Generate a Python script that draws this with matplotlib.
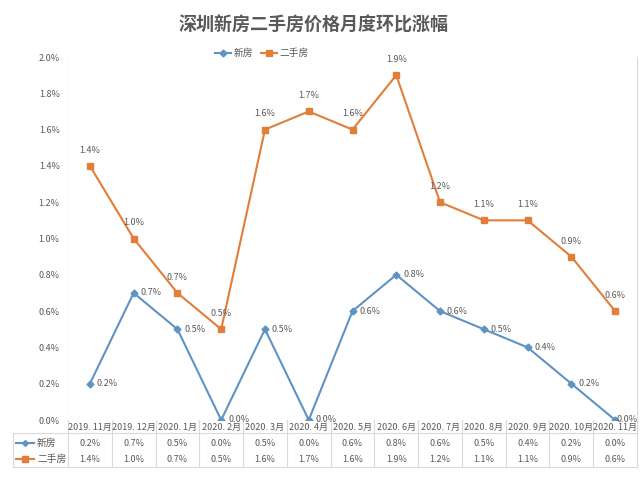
import matplotlib.pyplot as plt
from matplotlib.transforms import blended_transform_factory
from matplotlib.lines import Line2D

plt.rcParams['font.family'] = ['Noto Sans CJK SC', 'DejaVu Sans']

months = ["2019. 11月", "2019. 12月", "2020. 1月", "2020. 2月", "2020. 3月", "2020. 4月",
          "2020. 5月", "2020. 6月", "2020. 7月", "2020. 8月", "2020. 9月", "2020. 10月", "2020. 11月"]
new_home = [0.2, 0.7, 0.5, 0.0, 0.5, 0.0, 0.6, 0.8, 0.6, 0.5, 0.4, 0.2, 0.0]
second_hand = [1.4, 1.0, 0.7, 0.5, 1.6, 1.7, 1.6, 1.9, 1.2, 1.1, 1.1, 0.9, 0.6]
y_ticks = [0.0, 0.2, 0.4, 0.6, 0.8, 1.0, 1.2, 1.4, 1.6, 1.8, 2.0]

blue = '#5E93C4'
orange = '#E07E3A'
txt = '#595959'
grid = '#D9D9D9'

W, H = 640, 491
fig = plt.figure(figsize=(6.4, 4.91), dpi=100)
ax = fig.add_axes([68 / W, 1 - 420 / H, (637 - 68) / W, (420 - 57) / H])

x = list(range(len(months)))
ax.plot(x, new_home, color=blue, lw=1.5, marker='D', ms=3.5, label='新房', zorder=3)
ax.plot(x, second_hand, color=orange, lw=1.5, marker='s', ms=4.5, label='二手房', zorder=3)

for i, v in enumerate(new_home):
    # the last label is squeezed in against the right edge, as in the original
    dx = 5 if i < len(new_home) - 1 else 1
    ax.annotate(f"{v:.1f}%", (i, v), xytext=(dx, 0), textcoords='offset points',
                ha='left', va='center', fontsize=6.5, color=txt, zorder=4)
for i, v in enumerate(second_hand):
    ax.annotate(f"{v:.1f}%", (i, v), xytext=(0, 8), textcoords='offset points',
                ha='center', va='bottom', fontsize=6.5, color=txt, zorder=4)

ax.set_xlim(-0.5, len(months) - 0.5)
ax.set_ylim(0, 2.0)
ax.set_yticks(y_ticks)
ax.set_yticklabels([f"{t:.1f}%" for t in y_ticks], fontsize=6.5, color=txt)
ax.set_xticks([])
ax.tick_params(axis='y', length=0, pad=6)
for s in ax.spines.values():
    s.set_visible(False)

# vertical category gridlines running down through the data table
tr = blended_transform_factory(ax.transData, fig.transFigure)
y_top = 1 - 57 / H
y_bot = 1 - 467 / H
for b in range(len(months) + 1):
    fig.add_artist(Line2D([b - 0.5, b - 0.5], [y_bot, y_top], transform=tr, color=grid, lw=0.8, zorder=0))

# data table
y_hdr = 1 - 427 / H
y_r1 = 1 - 443 / H
y_r2 = 1 - 459 / H
y_sep = 1 - 433 / H
fig.add_artist(Line2D([13 / W, 637 / W], [y_sep, y_sep], color=grid, lw=0.8))
fig.add_artist(Line2D([13 / W, 637 / W], [y_bot, y_bot], color=grid, lw=0.8))
fig.add_artist(Line2D([13 / W, 13 / W], [y_bot, y_sep], color=grid, lw=0.8))
for i, m in enumerate(months):
    fig.text(i, y_hdr, m, transform=tr, ha='center', va='center', fontsize=6.5, color=txt)
    fig.text(i, y_r1, f"{new_home[i]:.1f}%", transform=tr, ha='center', va='center', fontsize=6.5, color=txt)
    fig.text(i, y_r2, f"{second_hand[i]:.1f}%", transform=tr, ha='center', va='center', fontsize=6.5, color=txt)

fig.add_artist(Line2D([16 / W, 25 / W, 34 / W], [y_r1, y_r1, y_r1], color=blue, lw=1.5, marker='D', ms=3, markevery=[1], transform=fig.transFigure))
fig.add_artist(Line2D([16 / W, 25 / W, 34 / W], [y_r2, y_r2, y_r2], color=orange, lw=1.5, marker='s', ms=4, markevery=[1], transform=fig.transFigure))
fig.text(37 / W, y_r1, '新房', ha='left', va='center', fontsize=7, color=txt)
fig.text(37 / W, y_r2, '二手房', ha='left', va='center', fontsize=7, color=txt)

fig.legend(loc='center', bbox_to_anchor=(262 / W, 1 - 53 / H), ncol=2, frameon=False,
           fontsize=7, labelcolor=txt, handlelength=1.6, columnspacing=0.8, handletextpad=0.3)

fig.text(0.49, 1 - 25 / H, '深圳新房二手房价格月度环比涨幅', ha='center', va='center',
         fontsize=13, fontweight='bold', color=txt)

fig.savefig('out.png', dpi=100)
